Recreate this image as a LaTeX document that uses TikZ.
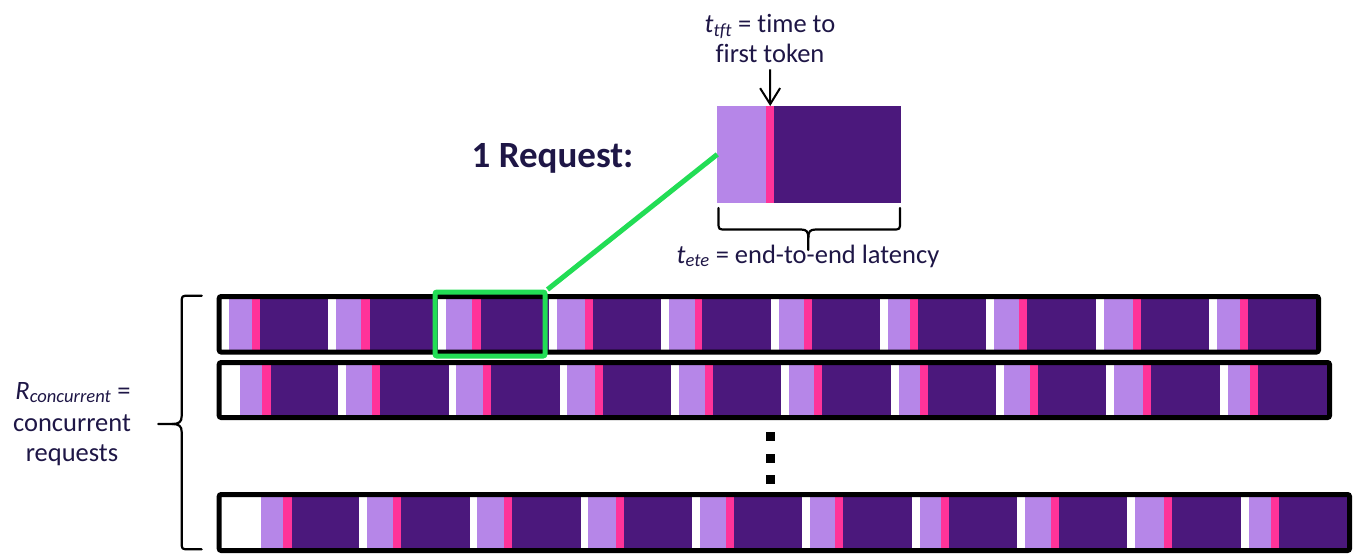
\documentclass[tikz,border=0pt]{standalone}
\usepackage{fontspec}
\setmainfont{Carlito}[Ligatures=CommonOff]
\usetikzlibrary{arrows.meta}

\definecolor{lav}{HTML}{B686E8}
\definecolor{tok}{HTML}{FF3399}
\definecolor{gen}{HTML}{4B187C}
\definecolor{zoomgreen}{HTML}{22DD55}
\definecolor{ink}{HTML}{1E1646}

% One row of back-to-back requests: #1 = horizontal shift, #2/#3 = inner top/bottom, #4 = inner right
\newcommand\requestrow[4]{%
  \begin{scope}
    \clip (221.7,#2) rectangle (#4,#3);
    \foreach \l/\p/\d/\e in {229.2/252/260.2/327.5, 335.5/361.3/369.6/438.2,
        445.8/472.2/480.5/549.2, 556.8/585/593/660.5, 668.5/694.5/702.2/770.6,
        778.6/803.8/812/880.3, 888.3/909.6/917.8/985.8, 994/1019.3/1027.2/1095.6,
        1103.6/1133/1141/1209.3, 1217.3/1239.6/1247.8/1317}{
      \fill[lav] (\l+#1,#2) rectangle (\p+#1,#3);
      \fill[tok] (\p+#1,#2) rectangle (\d+#1,#3);
      \fill[gen] (\d+#1,#2) rectangle (\e+#1,#3);
    }
  \end{scope}
  \draw[rowframe] (219.2,#2-2.5) rectangle (#4+2.5,#3+2.5);
}

\begin{document}
\begin{tikzpicture}[x=1pt,y=-1pt,
  txt/.style={text=ink, font=\fontsize{26.5}{31}\selectfont, inner sep=0, anchor=base},
  rowframe/.style={draw=black, line width=5pt, rounded corners=2pt},
  bracestroke/.style={draw=black, line width=2.2pt, line join=round, line cap=round},
  dotmark/.style={rectangle, fill=black, minimum size=9pt, inner sep=0},
  zoomframe/.style={draw=zoomgreen, line width=5pt, rounded corners=2pt}]

\useasboundingbox (0,0) rectangle (1354,557);

% concurrent request rows
\requestrow{0}{299}{349.5}{1316}
\requestrow{10.3}{365}{415}{1327}
\requestrow{31.3}{497}{548}{1347}

% vertical ellipsis
\node[dotmark] (dot1) at (770.5,436.7) {};
\node[dotmark] (dot2) at (770.5,458.3) {};
\node[dotmark] (dot3) at (770.5,479.3) {};

% highlighted single request and its enlarged view
\node[zoomframe, minimum width=110pt, minimum height=64pt, inner sep=0] (zoombox) at (490,324) {};
\node[minimum width=183.4pt, minimum height=96.7pt, inner sep=0, outer sep=0] (bigreq) at (809,154.35) {};
\fill[lav] (717.3,106) rectangle (766,202.7);
\fill[tok] (766,106) rectangle (774.3,202.7);
\fill[gen] (774.3,106) rectangle (900.7,202.7);
\draw[zoomgreen, line width=5pt] (zoombox.north east) -- (bigreq.west);

% labels
\node[txt, font=\fontsize{37}{42}\selectfont\bfseries] (onereq) at (552.5,167) {1 Request:};
\node[txt] (ttft1) at (770,32.5) {\textit{t}\textsubscript{\textit{tft}} = time to};
\node[txt] (ttft2) at (770,62.5) {first token};
\node[txt] (tete) at (808,263) {\textit{t}\textsubscript{\textit{ete}} = end-to-end latency};
\node[txt] (rc1) at (73,399) {\textit{R}\textsubscript{\textit{concurrent}} =};
\node[txt] (rc2) at (72,431) {concurrent};
\node[txt] (rc3) at (72,461) {requests};

% first-token marker
\coordinate (ttftmark) at (770.2,106);
\draw[line width=2pt, -{Straight Barb[length=16pt, width=20pt, line width=2pt]}]
  ([yshift=-6.5pt]ttft2.south) -- (ttftmark);

% brace under the enlarged request
\draw[bracestroke] (718.5,208) -- (718.5,222) .. controls (718.5,229.5) .. (726,229.5)
  -- (801,229.5) .. controls (807,229.5) and (808.3,232) .. (808.3,238) -- (808.3,250);
\draw[bracestroke] (900,208) -- (900,222) .. controls (900,229.5) .. (892.5,229.5)
  -- (815.6,229.5) .. controls (809.6,229.5) and (808.3,232) .. (808.3,238);

% brace grouping the rows
\draw[bracestroke] (201.7,295.7) -- (189,295.7) .. controls (181.7,295.7) .. (181.7,303)
  -- (181.7,416) .. controls (181.7,422) and (179,424) .. (172,424) -- (158.3,424);
\draw[bracestroke] (201.7,549.3) -- (189,549.3) .. controls (181.7,549.3) .. (181.7,542)
  -- (181.7,432) .. controls (181.7,426) and (179,424) .. (172,424);

\end{tikzpicture}
\end{document}
